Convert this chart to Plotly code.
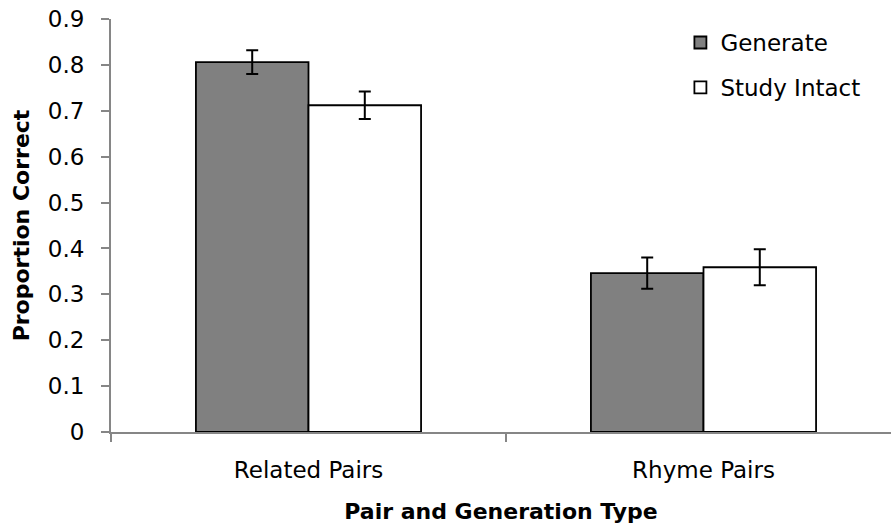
import plotly.graph_objects as go

categories = ["Related Pairs", "Rhyme Pairs"]
generate_vals = [0.806, 0.346]
generate_err = [0.026, 0.034]
study_vals = [0.712, 0.359]
study_err = [0.030, 0.039]
y_ticks = [0, 0.1, 0.2, 0.3, 0.4, 0.5, 0.6, 0.7, 0.8, 0.9]
y_tick_labels = ["0", "0.1", "0.2", "0.3", "0.4", "0.5", "0.6", "0.7", "0.8", "0.9"]

FONT = "DejaVu Sans"
AXIS_GRAY = "#868686"

fig = go.Figure()
fig.add_trace(go.Bar(
    name="Generate", x=categories, y=generate_vals, legendgroup="g1",
    marker=dict(color="#808080", line=dict(color="black", width=1.8)),
    error_y=dict(type="data", array=generate_err, color="black", thickness=2, width=6),
))
fig.add_trace(go.Bar(
    name="Study Intact", x=categories, y=study_vals, legendgroup="g2",
    marker=dict(color="white", line=dict(color="black", width=1.8)),
    error_y=dict(type="data", array=study_err, color="black", thickness=2, width=6),
))

fig.update_layout(
    width=891, height=529,
    margin=dict(l=111, r=0, t=19, b=97),
    paper_bgcolor="white", plot_bgcolor="white",
    barmode="group", bargap=0.43, bargroupgap=0,
    font=dict(family=FONT, size=23, color="black"),
    legend=dict(x=0.73, y=0.995, xanchor="left", yanchor="top",
                font=dict(family=FONT, size=23, color="black"),
                tracegroupgap=12, bgcolor="rgba(0,0,0,0)"),
    showlegend=True,
)
fig.update_xaxes(
    type="category", range=[-0.5, 1.4747],
    showline=True, linecolor=AXIS_GRAY, linewidth=2,
    ticks="outside", tickson="boundaries", ticklen=8, tickcolor=AXIS_GRAY, tickwidth=1.5,
    ticklabelstandoff=16, showgrid=False, zeroline=False,
    tickfont=dict(family=FONT, size=23),
    title=dict(text="<b>Pair and Generation Type</b>", font=dict(family=FONT, size=22), standoff=22),
)
fig.update_yaxes(
    range=[0, 0.9], tickvals=y_ticks, ticktext=y_tick_labels,
    showline=True, linecolor=AXIS_GRAY, linewidth=2,
    ticks="outside", ticklen=8, tickcolor=AXIS_GRAY, tickwidth=1.5,
    ticklabelstandoff=12, showgrid=False, zeroline=False,
    tickfont=dict(family=FONT, size=23),
    title=dict(text="<b>Proportion Correct</b>", font=dict(family=FONT, size=22), standoff=12),
)

fig.write_html("out.html")
